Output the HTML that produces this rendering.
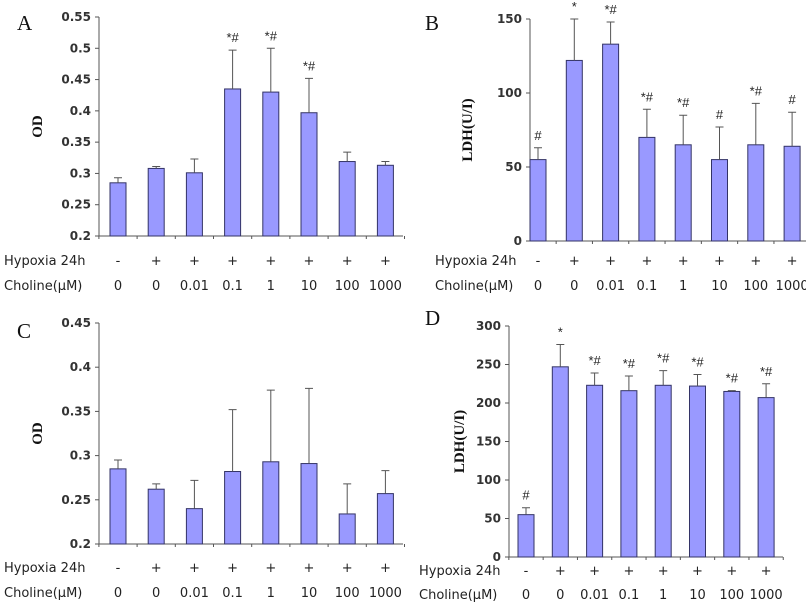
<!DOCTYPE html>
<html><head><meta charset="utf-8"><style>
body{margin:0;background:#fff;}
svg{display:block;}
.tk{font-family:"DejaVu Sans","Liberation Sans",sans-serif;font-size:12px;font-weight:bold;fill:#333;}
.rl{font-family:"DejaVu Sans","Liberation Sans",sans-serif;font-size:13px;fill:#222;}
.yt{font-family:"Liberation Serif",serif;font-size:15px;font-weight:bold;fill:#111;}
.pl{font-family:"Liberation Serif",serif;font-size:21px;fill:#111;}
.an{font-family:"Liberation Sans",sans-serif;font-size:13px;fill:#222;}
</style></head><body>
<svg id="fig" width="806" height="610" viewBox="0 0 806 610"></svg>
<script>
const hypoxia = ["-","+","+","+","+","+","+","+"];
const choline = ["0","0","0.01","0.1","1","10","100","1000"];
const aMean = [0.285,0.308,0.301,0.435,0.430,0.397,0.319,0.313];
const aErr  = [0.008,0.003,0.022,0.062,0.070,0.055,0.015,0.006];
const aNote = ["","","","*#","*#","*#","",""];
const aTicks = [0.2,0.25,0.3,0.35,0.4,0.45,0.5,0.55];
const bMean = [55,122,133,70,65,55,65,64];
const bErr  = [8,28,15,19,20,22,28,23];
const bNote = ["#","*","*#","*#","*#","#","*#","#"];
const bTicks = [0,50,100,150];
const cMean = [0.285,0.262,0.240,0.282,0.293,0.291,0.234,0.257];
const cErr  = [0.010,0.006,0.032,0.070,0.081,0.085,0.034,0.026];
const cNote = ["","","","","","","",""];
const cTicks = [0.2,0.25,0.3,0.35,0.4,0.45];
const dMean = [55,247,223,216,223,222,215,207];
const dErr  = [9,29,16,19,19,15,1,18];
const dNote = ["#","*","*#","*#","*#","*#","*#","*#"];
const dTicks = [0,50,100,150,200,250,300];

const NS="http://www.w3.org/2000/svg";
const svg=document.getElementById('fig');
function mk(tag,attrs,parent){const e=document.createElementNS(NS,tag);for(const k in attrs)e.setAttribute(k,attrs[k]);(parent||svg).appendChild(e);return e;}

function panel(p){
  const g=mk('g',{});
  
  
  const ymin=p.ticks[0],ymax=p.ticks[p.ticks.length-1];
  const y=v=>p.y0-(v-ymin)/(ymax-ymin)*(p.y0-p.y1);
  const x=i=>p.bx0+i*p.step;
  const lab=mk('text',{x:p.lx,y:p.ly,class:'pl'},g);lab.textContent=p.id;
  
  const ax=mk('line',{x1:p.ax,y1:p.y1,x2:p.ax,y2:p.y0,stroke:'#555','stroke-width':1},g);
  
  const xa=mk('line',{x1:p.ax,y1:p.y0,x2:p.xend,y2:p.y0,stroke:'#555','stroke-width':1},g);
  
  p.ticks.forEach(t=>{
    mk('line',{x1:p.ax-4,y1:y(t),x2:p.ax,y2:y(t),stroke:'#555'},g);
    const tx=mk('text',{x:p.ax-8,y:y(t)+4,class:'tk','text-anchor':'end'},g);tx.textContent=String(t);
    
  });
  for(let i=0;i<=p.mean.length;i++){mk('line',{x1:x(i)-p.step/2,y1:p.y0,x2:x(i)-p.step/2,y2:p.y0+3,stroke:'#555'},g);}
  const yt=mk('text',{x:0,y:0,class:'yt','text-anchor':'middle',transform:`translate(${p.ytx},${(p.y0+p.y1)/2}) rotate(-90)`},g);
  yt.textContent=p.ytitle;
  
  p.mean.forEach((m,i)=>{
    const cx=x(i),top=y(m),et=y(m+p.err[i]);
    const b=mk('rect',{x:cx-8,y:top,width:16,height:p.y0-top,fill:'#9999ff',stroke:'#333366','stroke-width':1},g);
    
    const e=mk('path',{d:`M${cx} ${top}V${et}M${cx-4} ${et}H${cx+4}`,stroke:'#555',fill:'none'},g);
    
    if(p.note[i]){const n=mk('text',{x:cx,y:et-8,class:'an','text-anchor':'middle'},g);n.textContent=p.note[i];
      }
    const h=mk('text',{x:cx,y:p.r1,class:'rl','text-anchor':'middle'},g);h.textContent=hypoxia[i];
    
    const c=mk('text',{x:cx,y:p.r2,class:'rl','text-anchor':'middle'},g);c.textContent=choline[i];
    
  });
  const h0=mk('text',{x:p.rx,y:p.r1,class:'rl'},g);h0.textContent='Hypoxia 24h';
  
  const c0=mk('text',{x:p.rx,y:p.r2,class:'rl'},g);c0.textContent='Choline(\u00b5M)';
  
}
panel({id:'A',lx:17,ly:30,ax:99,y0:236,y1:17,xend:403,bx0:118,step:38.2,ticks:aTicks,mean:aMean,err:aErr,note:aNote,ytitle:'OD',ytx:42,r1:265,r2:290,rx:4});
panel({id:'B',lx:425,ly:30,ax:530,y0:241,y1:19,xend:806,bx0:538,step:36.3,ticks:bTicks,mean:bMean,err:bErr,note:bNote,ytitle:'LDH(U/I)',ytx:472,r1:265,r2:290,rx:435});
panel({id:'C',lx:17,ly:338,ax:99,y0:544,y1:323,xend:403,bx0:118,step:38.2,ticks:cTicks,mean:cMean,err:cErr,note:cNote,ytitle:'OD',ytx:42,r1:572,r2:597,rx:4});
panel({id:'D',lx:425,ly:325,ax:509,y0:557,y1:326,xend:783,bx0:526,step:34.3,ticks:dTicks,mean:dMean,err:dErr,note:dNote,ytitle:'LDH(U/I)',ytx:464,r1:575,r2:599,rx:419});
</script>
</body></html>
